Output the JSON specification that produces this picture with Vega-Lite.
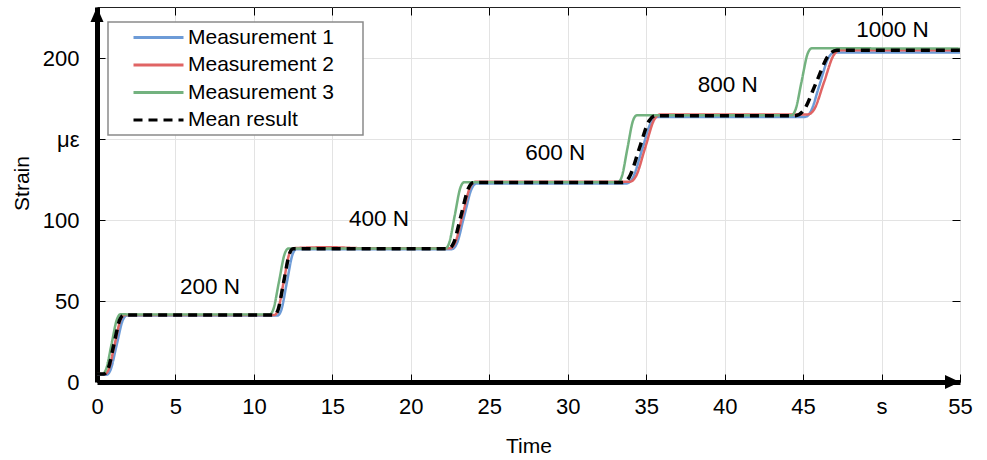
{
  "$schema": "https://vega.github.io/schema/vega-lite/v6.json",
  "width": 863,
  "height": 375,
  "autosize": "none",
  "padding": {"left": 97, "top": 7, "right": 27, "bottom": 78},
  "config": {
    "font": "Liberation Sans",
    "view": {"stroke": "#222222", "strokeWidth": 1},
    "axis": {"labelColor": "black", "titleColor": "black", "tickColor": "black", "domainColor": "black", "labelFont": "Liberation Sans", "titleFont": "Liberation Sans", "titleFontWeight": "normal"},
    "legend": {"strokeWidth": 1.5}
  },
  "datasets": {
    "curves": [
      {"series": "Measurement 1", "t": 0, "v": 4.5},
      {"series": "Measurement 1", "t": 0.6, "v": 4.5},
      {"series": "Measurement 1", "t": 0.86, "v": 7.4},
      {"series": "Measurement 1", "t": 1.25, "v": 22.75},
      {"series": "Measurement 1", "t": 1.64, "v": 38.1},
      {"series": "Measurement 1", "t": 1.9, "v": 41.0},
      {"series": "Measurement 1", "t": 11.5, "v": 41.0},
      {"series": "Measurement 1", "t": 11.74, "v": 44.3},
      {"series": "Measurement 1", "t": 12.1, "v": 61.5},
      {"series": "Measurement 1", "t": 12.46, "v": 78.7},
      {"series": "Measurement 1", "t": 12.7, "v": 82.0},
      {"series": "Measurement 1", "t": 22.6, "v": 82.0},
      {"series": "Measurement 1", "t": 22.92, "v": 85.2},
      {"series": "Measurement 1", "t": 23.4, "v": 102.3},
      {"series": "Measurement 1", "t": 23.88, "v": 119.4},
      {"series": "Measurement 1", "t": 24.2, "v": 122.6},
      {"series": "Measurement 1", "t": 33.75, "v": 122.6},
      {"series": "Measurement 1", "t": 34.14, "v": 125.9},
      {"series": "Measurement 1", "t": 34.73, "v": 143.1},
      {"series": "Measurement 1", "t": 35.31, "v": 160.3},
      {"series": "Measurement 1", "t": 35.7, "v": 163.6},
      {"series": "Measurement 1", "t": 45.1, "v": 163.6},
      {"series": "Measurement 1", "t": 45.48, "v": 166.8},
      {"series": "Measurement 1", "t": 46.05, "v": 183.5},
      {"series": "Measurement 1", "t": 46.62, "v": 200.2},
      {"series": "Measurement 1", "t": 47.0, "v": 203.4},
      {"series": "Measurement 1", "t": 55, "v": 203.4},

      {"series": "Measurement 2", "t": 0, "v": 5},
      {"series": "Measurement 2", "t": 0.5, "v": 5},
      {"series": "Measurement 2", "t": 0.75, "v": 7.9},
      {"series": "Measurement 2", "t": 1.125, "v": 23.15},
      {"series": "Measurement 2", "t": 1.5, "v": 38.4},
      {"series": "Measurement 2", "t": 1.75, "v": 41.3},
      {"series": "Measurement 2", "t": 11.3, "v": 41.3},
      {"series": "Measurement 2", "t": 11.54, "v": 44.6},
      {"series": "Measurement 2", "t": 11.9, "v": 61.95},
      {"series": "Measurement 2", "t": 12.26, "v": 79.3},
      {"series": "Measurement 2", "t": 12.5, "v": 82.6},
      {"series": "Measurement 2", "t": 14.8, "v": 83.2},
      {"series": "Measurement 2", "t": 17.0, "v": 82.6},
      {"series": "Measurement 2", "t": 22.5, "v": 82.6},
      {"series": "Measurement 2", "t": 22.82, "v": 85.9},
      {"series": "Measurement 2", "t": 23.3, "v": 103.1},
      {"series": "Measurement 2", "t": 23.78, "v": 120.3},
      {"series": "Measurement 2", "t": 24.1, "v": 123.6},
      {"series": "Measurement 2", "t": 33.95, "v": 123.6},
      {"series": "Measurement 2", "t": 34.34, "v": 126.9},
      {"series": "Measurement 2", "t": 34.93, "v": 144.4},
      {"series": "Measurement 2", "t": 35.51, "v": 161.9},
      {"series": "Measurement 2", "t": 35.9, "v": 165.2},
      {"series": "Measurement 2", "t": 45.3, "v": 165.2},
      {"series": "Measurement 2", "t": 45.71, "v": 168.4},
      {"series": "Measurement 2", "t": 46.33, "v": 185.0},
      {"series": "Measurement 2", "t": 46.94, "v": 201.6},
      {"series": "Measurement 2", "t": 47.35, "v": 204.8},
      {"series": "Measurement 2", "t": 55, "v": 204.8},

      {"series": "Measurement 3", "t": 0, "v": 5},
      {"series": "Measurement 3", "t": 0.35, "v": 5},
      {"series": "Measurement 3", "t": 0.58, "v": 7.9},
      {"series": "Measurement 3", "t": 0.925, "v": 23.3},
      {"series": "Measurement 3", "t": 1.27, "v": 38.7},
      {"series": "Measurement 3", "t": 1.5, "v": 41.9},
      {"series": "Measurement 3", "t": 2.2, "v": 41.6},
      {"series": "Measurement 3", "t": 11.0, "v": 41.6},
      {"series": "Measurement 3", "t": 11.24, "v": 44.9},
      {"series": "Measurement 3", "t": 11.6, "v": 62.0},
      {"series": "Measurement 3", "t": 11.96, "v": 79.1},
      {"series": "Measurement 3", "t": 12.2, "v": 82.4},
      {"series": "Measurement 3", "t": 22.2, "v": 82.4},
      {"series": "Measurement 3", "t": 22.44, "v": 85.7},
      {"series": "Measurement 3", "t": 22.8, "v": 102.85},
      {"series": "Measurement 3", "t": 23.16, "v": 120.0},
      {"series": "Measurement 3", "t": 23.4, "v": 123.3},
      {"series": "Measurement 3", "t": 33.2, "v": 123.3},
      {"series": "Measurement 3", "t": 33.44, "v": 126.6},
      {"series": "Measurement 3", "t": 33.8, "v": 143.95},
      {"series": "Measurement 3", "t": 34.16, "v": 161.3},
      {"series": "Measurement 3", "t": 34.4, "v": 164.6},
      {"series": "Measurement 3", "t": 44.25, "v": 164.6},
      {"series": "Measurement 3", "t": 44.51, "v": 167.9},
      {"series": "Measurement 3", "t": 44.9, "v": 185.3},
      {"series": "Measurement 3", "t": 45.29, "v": 202.7},
      {"series": "Measurement 3", "t": 45.55, "v": 206.0},
      {"series": "Measurement 3", "t": 55, "v": 205.8},

      {"series": "Mean result", "t": 0, "v": 5},
      {"series": "Mean result", "t": 0.45, "v": 5},
      {"series": "Mean result", "t": 0.7, "v": 7.9},
      {"series": "Mean result", "t": 1.075, "v": 23.15},
      {"series": "Mean result", "t": 1.45, "v": 38.4},
      {"series": "Mean result", "t": 1.7, "v": 41.3},
      {"series": "Mean result", "t": 11.3, "v": 41.3},
      {"series": "Mean result", "t": 11.54, "v": 44.6},
      {"series": "Mean result", "t": 11.9, "v": 61.8},
      {"series": "Mean result", "t": 12.26, "v": 79.0},
      {"series": "Mean result", "t": 12.5, "v": 82.3},
      {"series": "Mean result", "t": 22.4, "v": 82.3},
      {"series": "Mean result", "t": 22.72, "v": 85.6},
      {"series": "Mean result", "t": 23.2, "v": 102.7},
      {"series": "Mean result", "t": 23.68, "v": 119.8},
      {"series": "Mean result", "t": 24.0, "v": 123.1},
      {"series": "Mean result", "t": 33.5, "v": 123.1},
      {"series": "Mean result", "t": 33.92, "v": 126.4},
      {"series": "Mean result", "t": 34.55, "v": 143.75},
      {"series": "Mean result", "t": 35.18, "v": 161.1},
      {"series": "Mean result", "t": 35.6, "v": 164.4},
      {"series": "Mean result", "t": 44.5, "v": 164.4},
      {"series": "Mean result", "t": 45.03, "v": 167.6},
      {"series": "Mean result", "t": 45.825, "v": 184.6},
      {"series": "Mean result", "t": 46.62, "v": 201.6},
      {"series": "Mean result", "t": 47.15, "v": 204.8},
      {"series": "Mean result", "t": 55, "v": 204.8}
    ],
    "labels": [
      {"t": 7.2, "v": 58.6, "text": "200 N"},
      {"t": 17.97, "v": 100.6, "text": "400 N"},
      {"t": 29.2, "v": 141.4, "text": "600 N"},
      {"t": 40.2, "v": 183.3, "text": "800 N"},
      {"t": 50.7, "v": 217.3, "text": "1000 N"}
    ],
    "arrows": [
      {"t": 0, "v": 231.5, "dir": "up"},
      {"t": 55, "v": 0, "dir": "right"}
    ]
  },
  "resolve": {"axis": {"x": "independent", "y": "independent"}},
  "layer": [
    {
      "data": {"name": "curves"},
      "transform": [{"filter": "datum.series != 'Mean result'"}],
      "mark": {"type": "line", "interpolate": "monotone", "strokeWidth": 2.5},
      "encoding": {
        "x": {"field": "t", "type": "quantitative",
          "scale": {"domain": [0, 55], "nice": false, "zero": false},
          "axis": {"orient": "bottom", "title": "Time", "values": [0,5,10,15,20,25,30,35,40,45,50,55],
            "labelExpr": "datum.value == 50 ? 's' : datum.label",
            "labelFontSize": 22, "labelFlush": false, "labelOverlap": false, "labelPadding": 22.5,
            "tickSize": -8, "tickWidth": 1, "domainWidth": 5, "domainCap": "butt",
            "grid": true, "gridColor": "#e3e3e3", "gridWidth": 1,
            "titleFontSize": 21, "titleY": 70, "titleBaseline": "alphabetic"}},
        "y": {"field": "v", "type": "quantitative",
          "scale": {"domain": [0, 231.5], "nice": false},
          "axis": {"orient": "left", "title": "Strain", "values": [0,50,100,150,200],
            "labelExpr": "datum.value == 150 ? 'με' : datum.label",
            "labelFontSize": 22, "labelFlush": false, "labelOverlap": false, "labelPadding": 26,
            "tickSize": -8, "tickWidth": 1, "domainWidth": 5, "domainCap": "butt",
            "grid": true, "gridColor": "#e3e3e3", "gridWidth": 1,
            "titleFontSize": 21, "titleAngle": -90, "titleX": -75, "titleY": 176,
            "titleBaseline": "middle", "titleAlign": "center"}},
        "color": {"field": "series", "type": "nominal",
          "scale": {"domain": ["Measurement 1", "Measurement 2", "Measurement 3", "Mean result"],
            "range": ["#6d9bd7", "#e06464", "#73b27f", "#000000"]},
          "legend": {"title": null, "orient": "none", "legendX": 11, "legendY": 15,
            "padding": 5, "strokeColor": "#8a8a8a", "fillColor": "white",
            "labelFontSize": 21, "labelColor": "black", "labelFont": "Liberation Sans",
            "labelExpr": "datum.label + '\u00a0\u00a0\u00a0\u00a0\u200b'",
            "symbolType": "M2,0H12", "symbolSize": 100, "symbolStrokeWidth": 3,
            "labelOffset": 54, "rowPadding": 5.5, "labelLimit": 400}},
        "strokeDash": {"field": "series", "type": "nominal",
          "scale": {"domain": ["Measurement 1", "Measurement 2", "Measurement 3", "Mean result"],
            "range": [[1, 0], [1, 0], [1, 0], [9, 6]]}}
      }
    },
    {
      "data": {"name": "curves"},
      "transform": [{"filter": "datum.series == 'Mean result'"}],
      "mark": {"type": "line", "interpolate": "monotone", "strokeWidth": 3.5},
      "encoding": {
        "x": {"field": "t", "type": "quantitative", "axis": null},
        "y": {"field": "v", "type": "quantitative", "axis": null},
        "color": {"field": "series", "type": "nominal"},
        "strokeDash": {"field": "series", "type": "nominal"}
      }
    },
    {
      "data": {"name": "labels"},
      "mark": {"type": "text", "fontSize": 22.5, "align": "center", "baseline": "middle", "color": "black", "font": "Liberation Sans"},
      "encoding": {
        "x": {"field": "t", "type": "quantitative", "axis": null},
        "y": {"field": "v", "type": "quantitative", "axis": null},
        "text": {"field": "text"}
      }
    },
    {
      "data": {"name": "arrows"},
      "mark": {"type": "point", "filled": true, "opacity": 1, "color": "black", "size": 4, "strokeWidth": 0},
      "encoding": {
        "x": {"field": "t", "type": "quantitative",
          "axis": {"orient": "top", "title": null, "labels": false, "domain": false, "grid": false,
            "values": [5,10,15,20,25,30,35,40,45,50], "tickSize": -8, "tickWidth": 1}},
        "y": {"field": "v", "type": "quantitative",
          "axis": {"orient": "right", "title": null, "labels": false, "domain": false, "grid": false,
            "values": [50,100,150,200], "tickSize": -8, "tickWidth": 1}},
        "shape": {"field": "dir", "type": "nominal",
          "scale": {"domain": ["up", "right"], "range": ["M0,0L-6.5,15L6.5,15Z", "M0,0L-15,-7L-15,7Z"]},
          "legend": null}
      }
    }
  ]
}
